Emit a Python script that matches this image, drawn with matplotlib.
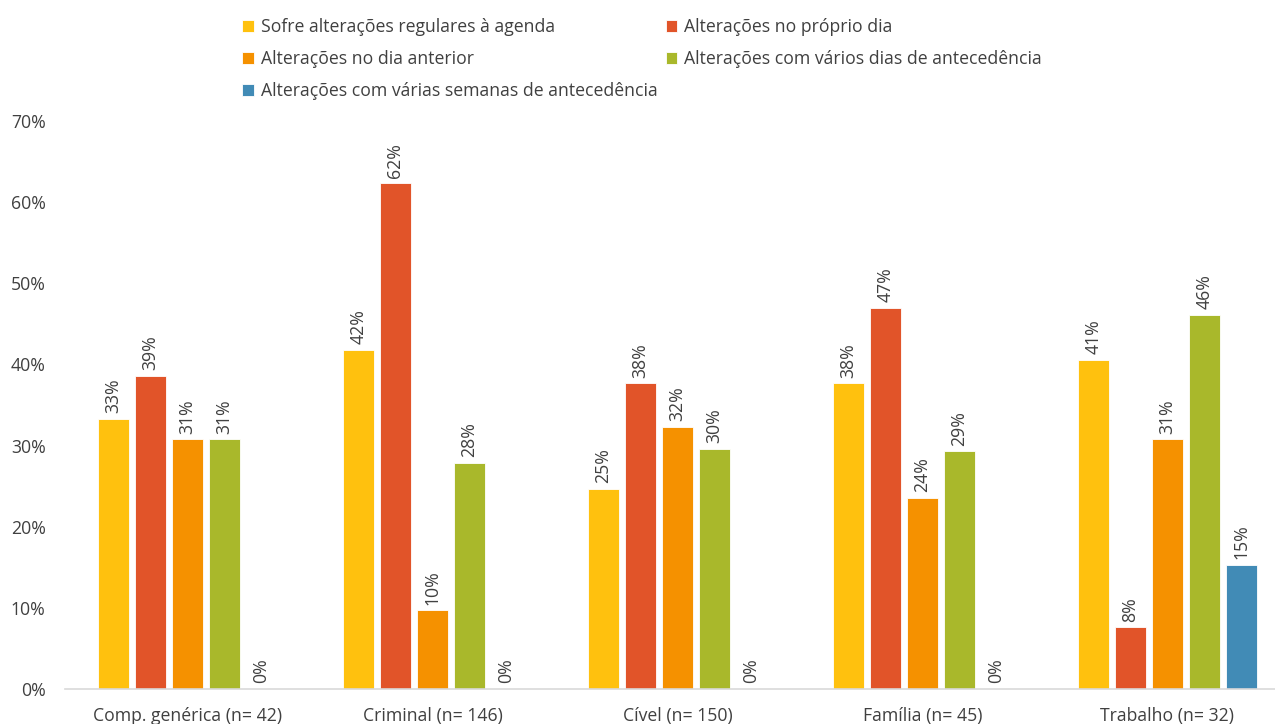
import matplotlib
matplotlib.use("Agg")
import matplotlib.pyplot as plt
import numpy as np

categories = ["Comp. genérica (n= 42)", "Criminal (n= 146)", "Cível (n= 150)", "Família (n= 45)", "Trabalho (n= 32)"]
series_names = ["Sofre alterações regulares à agenda", "Alterações no próprio dia",
                "Alterações no dia anterior", "Alterações com vários dias de antecedência",
                "Alterações com várias semanas de antecedência"]
regulares = [33.3, 41.8, 24.7, 37.7, 40.6]
proprio_dia = [38.6, 62.3, 37.7, 47.0, 7.6]
dia_anterior = [30.8, 9.7, 32.3, 23.6, 30.8]
varios_dias = [30.8, 27.9, 29.6, 29.3, 46.1]
varias_semanas = [0.0, 0.0, 0.0, 0.0, 15.3]
colors = ["#FFC10E", "#E15429", "#F59100", "#A9B82B", "#418BB6"]
yticks = [0, 10, 20, 30, 40, 50, 60, 70]

series = [regulares, proprio_dia, dia_anterior, varios_dias, varias_semanas]

plt.rcParams['font.family'] = ['Open Sans', 'DejaVu Sans']
txt = "#404040"
fs = 12.7

fig = plt.figure(figsize=(12.75, 7.24), dpi=100)
ax = fig.add_axes([65/1275, 35/724, 1210/1275, 568/724])

x = np.arange(len(categories))
pitch = 0.151
width = 0.127
handles = []
for i, (vals, c) in enumerate(zip(series, colors)):
    pos = x + (i - 2) * pitch
    b = ax.bar(pos, vals, width=width, color=c, edgecolor="white", linewidth=0.6, label=series_names[i])
    handles.append(b)
    for p, v in zip(pos, vals):
        ax.annotate(f"{v:.0f}%", (p, v), xytext=(0, 4), textcoords="offset points",
                    rotation=90, ha="center", va="bottom", fontsize=fs, color=txt)

ax.set_xlim(-0.5, 4.44)
ax.set_ylim(0, 70)
ax.set_yticks(yticks)
ax.set_yticklabels([f"{t}%" for t in yticks], fontsize=fs, color=txt)
ax.set_xticks(x)
ax.set_xticklabels(categories, fontsize=fs, color=txt)
ax.tick_params(axis='both', length=0)
ax.tick_params(axis='y', pad=14)
ax.tick_params(axis='x', pad=13)
for s in ["top", "right", "left"]:
    ax.spines[s].set_visible(False)
ax.spines["bottom"].set_color("#D9D9D9")
ax.spines["bottom"].set_linewidth(1.2)

order = [0, 2, 4, 1, 3]
leg = fig.legend([handles[i] for i in order], [series_names[i] for i in order],
                 ncol=2, loc="upper left", bbox_to_anchor=(230/1275, 1.0 - 6/724), frameon=False,
                 fontsize=fs, handlelength=0.65, handleheight=0.65, handletextpad=0.4,
                 columnspacing=0.45, labelspacing=0.78, borderaxespad=0.3)
for t in leg.get_texts():
    t.set_color(txt)

fig.savefig("out.png", dpi=100)
